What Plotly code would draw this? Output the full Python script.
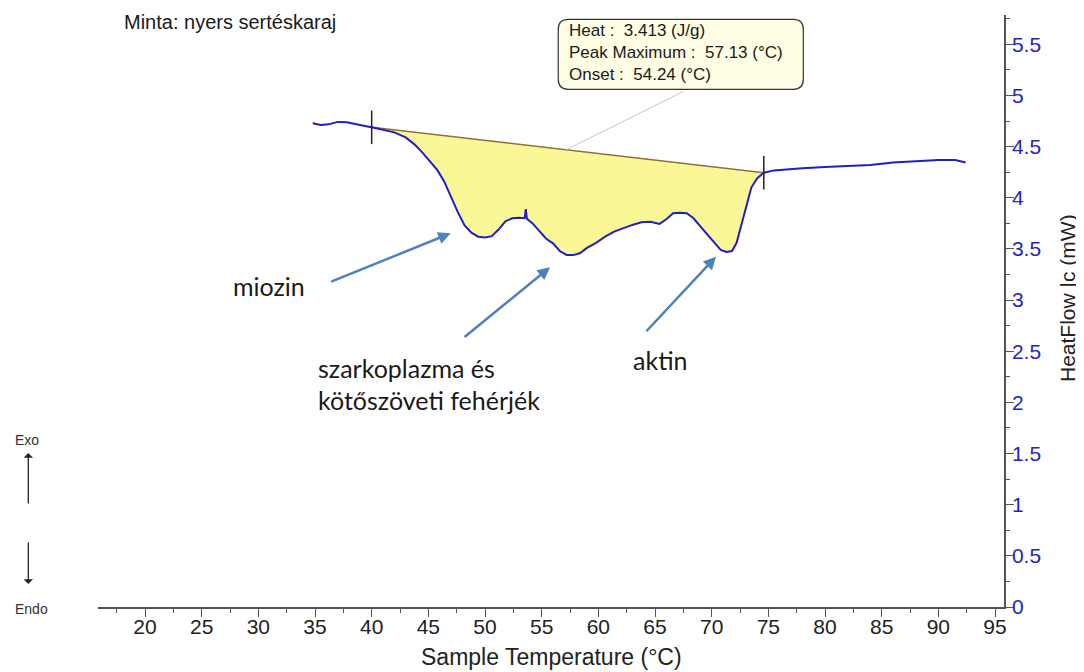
import numpy as np
import plotly.graph_objects as go

# DSC curve
temp = [34.8, 35.5, 36.2, 37.0, 37.8, 38.5, 39.3, 40.0, 41.0, 42.0, 43.0, 43.8, 44.5, 45.2,
        45.8, 46.4, 47.0, 47.6, 48.2, 48.8, 49.4, 50.0, 50.6, 51.2, 51.8, 52.4, 53.0, 53.5,
        53.6, 53.7, 54.2, 54.8, 55.4, 56.0, 56.6, 57.2, 57.8, 58.4, 59.0, 59.8, 60.6, 61.4,
        62.2, 63.0, 63.8, 64.6, 65.4, 66.0, 66.6, 67.2, 67.8, 68.4, 69.0, 69.6, 70.2, 70.8,
        71.3, 71.8, 72.2, 72.6, 73.0, 73.5, 74.0, 74.6, 75.5, 76.5, 78.0, 80.0, 82.0, 84.0,
        86.0, 88.0, 90.0, 91.5, 92.4]
heatflow = [4.728, 4.712, 4.718, 4.742, 4.738, 4.725, 4.705, 4.689, 4.668, 4.640, 4.590, 4.520,
            4.440, 4.350, 4.270, 4.160, 4.010, 3.860, 3.730, 3.660, 3.620, 3.612, 3.625, 3.690,
            3.770, 3.800, 3.805, 3.800, 3.890, 3.795, 3.750, 3.680, 3.600, 3.555, 3.480, 3.442,
            3.440, 3.460, 3.510, 3.560, 3.620, 3.670, 3.705, 3.735, 3.760, 3.765, 3.745, 3.790,
            3.850, 3.855, 3.850, 3.800, 3.720, 3.640, 3.560, 3.490, 3.470, 3.480, 3.560, 3.720,
            3.900, 4.100, 4.190, 4.245, 4.268, 4.278, 4.290, 4.300, 4.310, 4.320, 4.345, 4.355,
            4.370, 4.370, 4.345]

# integration limits (baseline end points)
limit_t = [40.0, 74.6]
limit_hf = [4.689, 4.245]

heat = 3.413
peak_max = 57.13
onset = 54.24

peak_labels = ['miozin', 'aktin']
peak_t = [46.97, 70.38]
peak_hf = [3.653, 3.424]
sarco_lines = ['szarkoplazma és', 'kötőszöveti fehérjék']
sarco_t = 55.74
sarco_hf = 3.321

t = np.array(temp)
hf = np.array(heatflow)
inside = (t >= limit_t[0]) & (t <= limit_t[1])
ti = t[inside]
hi = hf[inside]
base = np.interp(ti, limit_t, limit_hf)

fig = go.Figure()

# yellow area between baseline and curve
fig.add_trace(go.Scatter(x=list(ti) + list(ti[::-1]), y=list(hi) + list(base[::-1]),
                         fill='toself', fillcolor='#fbf796', line=dict(width=0),
                         mode='lines', hoverinfo='skip'))
# baseline
fig.add_trace(go.Scatter(x=limit_t, y=limit_hf, mode='lines',
                         line=dict(color='#8f7038', width=1.5)))
# curve
fig.add_trace(go.Scatter(x=temp, y=heatflow, mode='lines',
                         line=dict(color='#1f1fc4', width=2)))
# limit markers
fig.add_trace(go.Scatter(x=limit_t, y=limit_hf, mode='markers',
                         marker=dict(symbol='line-ns', size=24,
                                     line=dict(color='#222222', width=1.5))))

# leader line from baseline to info box
fig.add_annotation(x=peak_max, y=float(np.interp(peak_max, limit_t, limit_hf)),
                   xref='x', yref='y', ax=119, ay=-59, showarrow=True,
                   arrowhead=0, arrowcolor='#c8c8c8', arrowwidth=1, text='')

# info box with rounded corners
x0, x1, y0, y1 = 0.508, 0.7785, 0.8745, 0.9927
rx, ry = 0.011, 0.0169
path = (f'M {x0+rx},{y1} L {x1-rx},{y1} Q {x1},{y1} {x1},{y1-ry} L {x1},{y0+ry} '
        f'Q {x1},{y0} {x1-rx},{y0} L {x0+rx},{y0} Q {x0},{y0} {x0},{y0+ry} '
        f'L {x0},{y1-ry} Q {x0},{y1} {x0+rx},{y1} Z')
fig.add_shape(type='path', path=path, xref='paper', yref='paper',
              fillcolor='#fefee4', line=dict(color='#333333', width=1.2))
fig.add_annotation(xref='paper', yref='paper', x=0.5173, y=0.9367, xanchor='left',
                   yanchor='middle', align='left', showarrow=False,
                   text=f'Heat :  {heat} (J/g)<br>Peak Maximum :  {peak_max} (°C)<br>Onset :  {onset} (°C)',
                   font=dict(family='Arial', size=17, color='#1a1a1a'))

# peak callouts
arrow_col = '#4f81bd'
lab_font = dict(family='Lato', size=25, color='#1a1a1a')
fig.add_annotation(x=peak_t[0], y=peak_hf[0], ax=-121, ay=49, showarrow=True, text='',
                   arrowhead=2, arrowsize=1, arrowwidth=2.5, arrowcolor=arrow_col)
fig.add_annotation(x=sarco_t, y=sarco_hf, ax=-87, ay=71, showarrow=True, text='',
                   arrowhead=2, arrowsize=1, arrowwidth=2.5, arrowcolor=arrow_col)
fig.add_annotation(x=peak_t[1], y=peak_hf[1], ax=-71, ay=76, showarrow=True, text='',
                   arrowhead=2, arrowsize=1, arrowwidth=2.5, arrowcolor=arrow_col)

fig.add_annotation(xref='paper', yref='paper', x=(231 - 98) / 906, y=(607 - 286) / 592,
                   xanchor='left', yanchor='middle', showarrow=False, text=peak_labels[0],
                   font=lab_font)
fig.add_annotation(xref='paper', yref='paper', x=(631 - 98) / 906, y=(607 - 360) / 592,
                   xanchor='left', yanchor='middle', showarrow=False, text=peak_labels[1],
                   font=lab_font)
for i, line in enumerate(sarco_lines):
    fig.add_annotation(xref='paper', yref='paper', x=(316 - 98) / 906,
                       y=(607 - (368 + 32 * i)) / 592, xanchor='left', yanchor='middle',
                       showarrow=False, text=line, font=lab_font)

# sample name
fig.add_annotation(xref='paper', yref='paper', x=(122 - 98) / 906, y=(607 - 22) / 592,
                   xanchor='left', yanchor='middle', showarrow=False,
                   text='Minta: nyers sertéskaraj',
                   font=dict(family='Arial', size=20, color='#1a1a1a'))

# Exo / Endo
small = dict(family='Arial', size=14, color='#333333')
fig.add_annotation(xref='paper', yref='paper', x=(27 - 98) / 906, y=(607 - 440) / 592,
                   xanchor='center', yanchor='middle', showarrow=False, text='Exo',
                   font=small)
fig.add_annotation(xref='paper', yref='paper', x=(31 - 98) / 906, y=(607 - 609) / 592,
                   xanchor='center', yanchor='middle', showarrow=False, text='Endo',
                   font=small)
fig.add_annotation(xref='paper', yref='paper', x=(28.3 - 98) / 906, y=(607 - 453) / 592,
                   ax=0, ay=52, showarrow=True, text='', arrowhead=1, arrowsize=1.2,
                   arrowwidth=1.3, arrowcolor='#222222')
fig.add_annotation(xref='paper', yref='paper', x=(28.3 - 98) / 906, y=(607 - 584) / 592,
                   ax=0, ay=-43, showarrow=True, text='', arrowhead=1, arrowsize=1.2,
                   arrowwidth=1.3, arrowcolor='#222222')

# axis titles
fig.add_annotation(xref='paper', yref='paper', x=(1067 - 98) / 906, y=(607 - 298) / 592,
                   xanchor='center', yanchor='middle', textangle=-90, showarrow=False,
                   text='HeatFlow |c (mW)',
                   font=dict(family='Arial', size=21, color='#222222'))
fig.add_annotation(xref='paper', yref='paper', x=0.5, y=(607 - 657) / 592,
                   xanchor='center', yanchor='middle', showarrow=False,
                   text='Sample Temperature (°C)',
                   font=dict(family='Arial', size=23, color='#222222'))

# the page body adds an 8px offset, so the figure is drawn 8px smaller
fig.update_layout(
    width=1076, height=664,
    margin=dict(l=90, r=80, t=7, b=65),
    plot_bgcolor='white', paper_bgcolor='white',
    showlegend=False,
    xaxis=dict(range=[15.853, 95.794], tick0=0, dtick=5, ticks='outside', ticklen=8,
               tickcolor='#555555', showline=True, linecolor='#555555', linewidth=1.5,
               showgrid=False, zeroline=False, ticklabelstandoff=-8,
               minor=dict(dtick=2.5, ticklen=4, tickcolor='#555555', ticks='outside'),
               tickfont=dict(family='Arial', size=21, color='#222222')),
    yaxis=dict(side='right', range=[0, 5.787], tick0=0, dtick=0.5, ticks='outside',
               ticklen=8, tickcolor='#555555', showline=True, linecolor='#555555',
               linewidth=1.5, showgrid=False, zeroline=False, ticklabelstandoff=-6,
               minor=dict(dtick=0.25, ticklen=4, tickcolor='#555555', ticks='outside'),
               tickfont=dict(family='Arial', size=21, color='#2323c8')),
)

fig.write_html('out.html')
